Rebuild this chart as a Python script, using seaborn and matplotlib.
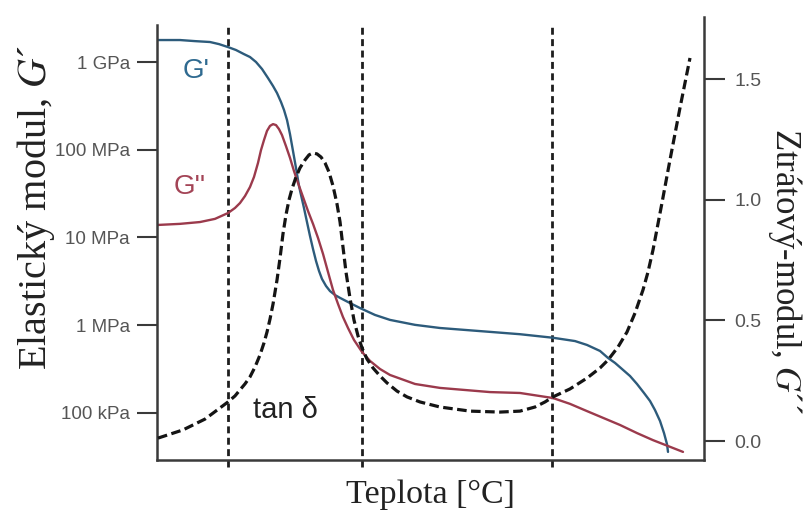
import matplotlib
matplotlib.use("Agg")
import matplotlib.pyplot as plt
import seaborn as sns
from matplotlib.ticker import NullLocator

# --- storage modulus G' (Pa) vs temperature ---
temp_storage = [0.18, 4.20, 6.95, 9.69, 11.33, 12.98, 14.44, 15.90, 17.00, 18.10,
                19.20, 20.29, 21.21, 21.94, 22.67, 23.22, 23.77, 24.31, 24.86, 25.41,
                25.96, 26.33, 26.87, 27.42, 27.97, 28.52, 29.07, 29.62, 30.16, 30.90,
                31.63, 32.54, 33.46, 35.28, 37.11, 39.85, 42.60, 47.17, 51.74, 60.88,
                66.36, 72.39, 76.42, 78.61, 80.99, 82.45, 83.73, 85.01, 86.47, 87.75,
                89.03, 90.13, 91.04, 91.96, 92.69, 93.24, 93.42]
storage_modulus = [1.78e9, 1.78e9, 1.73e9, 1.69e9, 1.60e9, 1.48e9, 1.37e9, 1.23e9,
                   1.14e9, 1.00e9, 8.32e8, 6.57e8, 5.33e8, 4.43e8, 3.50e8, 2.84e8,
                   2.18e8, 1.51e8, 9.7e7, 6.2e7, 3.86e7, 3.05e7, 2.17e7, 1.50e7,
                   1.04e7, 7.4e6, 5.4e6, 4.15e6, 3.37e6, 2.80e6, 2.45e6, 2.21e6,
                   2.05e6, 1.79e6, 1.57e6, 1.31e6, 1.15e6, 1.01e6, 9.3e5, 8.4e5,
                   7.9e5, 7.2e5, 6.6e5, 5.96e5, 5.09e5, 4.24e5, 3.72e5, 3.17e5,
                   2.64e5, 2.14e5, 1.69e5, 1.37e5, 1.08e5, 8.1e4, 5.9e4, 4.4e4, 3.6e4]

# --- loss modulus G'' (Pa) vs temperature ---
temp_loss = [0.18, 4.20, 7.86, 10.60, 12.98, 14.26, 15.17, 16.09, 17.00, 17.73,
             18.46, 19.01, 19.56, 20.11, 20.66, 21.21, 21.76, 22.30, 22.85, 23.58,
             24.31, 25.05, 25.78, 26.69, 27.61, 28.52, 29.43, 30.35, 31.26, 32.18,
             33.09, 34.00, 34.92, 36.01, 37.48, 38.94, 40.77, 42.60, 47.17, 51.74,
             60.88, 66.36, 72.39, 75.50, 78.61, 81.54, 84.64, 87.75, 90.68, 93.42,
             96.16]
loss_modulus = [1.39e7, 1.43e7, 1.50e7, 1.63e7, 1.90e7, 2.17e7, 2.47e7, 2.97e7,
                3.76e7, 4.89e7, 7.06e7, 9.9e7, 1.29e8, 1.64e8, 1.87e8, 1.96e8,
                1.91e8, 1.72e8, 1.47e8, 1.10e8, 8.1e7, 5.7e7, 4.18e7, 2.90e7,
                2.00e7, 1.43e7, 9.9e6, 6.5e6, 4.05e6, 2.52e6, 1.75e6, 1.24e6,
                9.3e5, 6.8e5, 4.96e5, 3.92e5, 3.17e5, 2.71e5, 2.14e5, 1.93e5,
                1.73e5, 1.69e5, 1.48e5, 1.27e5, 1.05e5, 8.8e4, 7.3e4, 5.9e4,
                4.9e4, 4.2e4, 3.6e4]

# --- loss factor tan(delta) vs temperature ---
temp_tan = [0.18, 4.75, 8.78, 12.98, 14.26, 15.17, 16.09, 17.00, 17.92, 18.83,
            19.56, 20.11, 20.66, 21.21, 21.94, 22.49, 23.03, 23.58, 24.13, 24.68,
            25.41, 26.14, 27.06, 27.79, 28.52, 29.25, 29.98, 30.71, 31.44, 32.18,
            32.91, 33.46, 34.00, 34.55, 35.28, 36.01, 36.75, 37.48, 38.39, 39.49,
            40.77, 42.05, 43.88, 45.70, 48.08, 51.74, 57.22, 62.71, 66.36, 69.10,
            70.93, 72.39, 75.50, 78.61, 80.99, 82.45, 84.28, 85.92, 87.39, 88.85,
            89.76, 90.68, 92.32, 93.78, 95.61, 97.44]
tan_delta = [0.012, 0.046, 0.091, 0.162, 0.187, 0.212, 0.237, 0.266, 0.307, 0.357,
             0.407, 0.452, 0.506, 0.568, 0.668, 0.759, 0.859, 0.938, 1.000, 1.046,
             1.095, 1.133, 1.166, 1.187, 1.195, 1.191, 1.178, 1.154, 1.116, 1.058,
             0.983, 0.909, 0.805, 0.701, 0.593, 0.502, 0.436, 0.386, 0.340, 0.303,
             0.270, 0.241, 0.207, 0.183, 0.162, 0.141, 0.124, 0.120, 0.124, 0.141,
             0.162, 0.183, 0.216, 0.261, 0.303, 0.336, 0.390, 0.452, 0.531, 0.627,
             0.701, 0.793, 0.988, 1.166, 1.382, 1.589]

# transition temperatures marked by vertical lines
transitions = [13.0, 37.5, 72.2]

left_ticks = [1e5, 1e6, 1e7, 1e8, 1e9]
left_labels = ["100 kPa", "1 MPa", "10 MPa", "100 MPa", "1 GPa"]
right_ticks = [0.0, 0.5, 1.0, 1.5]
right_labels = ["0.0", "0.5", "1.0", "1.5"]

sns.set_theme(style="white")
plt.rcParams["font.family"] = ["Liberation Sans", "DejaVu Sans"]
plt.rcParams["mathtext.fontset"] = "stix"

BLUE = "#2d5b7b"
RED = "#9b3a4c"
SPINE = "#3a3a3a"
TICKLABEL = "#555555"

fig = plt.figure(figsize=(8.06, 5.23), dpi=100)
ax = fig.add_axes([157 / 806, 63 / 523, 547 / 806, 443 / 523])
ax.set_yscale("log")

line_kw = dict(estimator=None, sort=False, solid_joinstyle="round",
               solid_capstyle="round")
sns.lineplot(x=temp_storage, y=storage_modulus, ax=ax, color=BLUE, lw=1.7, **line_kw)
sns.lineplot(x=temp_loss, y=loss_modulus, ax=ax, color=RED, lw=1.7, **line_kw)

ax.set_xlim(0, 100)
ax.set_ylim(10 ** 4.464, 10 ** 9.513)

for xv in transitions:
    ax.axvline(xv, ymin=-0.016, ymax=0.9865, color="#1e1e1e", lw=2.0,
               ls=(0, (2.5, 1.6)), clip_on=False, zorder=1)

ax2 = ax.twinx()
sns.lineplot(x=temp_tan, y=tan_delta, ax=ax2, color="#141414", lw=2.3,
             ls=(0, (3.0, 1.4)), estimator=None, sort=False)
ax2.set_ylim(-0.0788, 1.759)

# spines
for a in (ax, ax2):
    a.spines["top"].set_visible(False)
    for s in a.spines.values():
        s.set_color(SPINE)
        s.set_linewidth(1.8)
ax.spines["right"].set_visible(False)
ax2.spines["left"].set_visible(False)
ax2.spines["bottom"].set_visible(False)
ax.spines["left"].set_bounds(10 ** 4.464, 10 ** 9.42)

# ticks
ax.set_xticks([])
ax.set_yticks(left_ticks, labels=left_labels)
ax.yaxis.set_minor_locator(NullLocator())
ax.tick_params(axis="y", which="major", left=True, direction="out", length=14.5,
               width=1.5, color=SPINE, labelsize=13.5, labelcolor=TICKLABEL, pad=5)
ax2.set_yticks(right_ticks, labels=right_labels)
ax2.tick_params(axis="y", which="major", right=True, direction="out", length=15,
                width=1.5, color=SPINE, labelsize=14, labelcolor=TICKLABEL, pad=7)

# axis titles
ax.set_ylabel("Elastický modul, $G$´", family="Liberation Serif", fontsize=29,
              color="#222222", va="center")
ax.yaxis.set_label_coords(-0.222, 0.571)
ax2.set_ylabel("Ztrátový-modul, $G$´´", family="Liberation Serif", fontsize=25,
               color="#222222", rotation=-90, va="center")
ax2.yaxis.set_label_coords(1.148, 0.426)
ax.set_xlabel("Teplota [°C]", family="Liberation Serif", fontsize=24.5,
              color="#222222", va="center")
ax.xaxis.set_label_coords(0.5, -0.079)

# curve labels
ax.text(7.1, 7.9e8, "G'", color="#2f6a90", fontsize=20, ha="center", va="center")
ax.text(6.0, 3.77e7, "G''", color="#a34456", fontsize=20, ha="center", va="center")
ax2.text(23.4, 0.129, "tan δ", color="#222222", fontsize=21, ha="center", va="center")

fig.savefig("out.png", dpi=100)
